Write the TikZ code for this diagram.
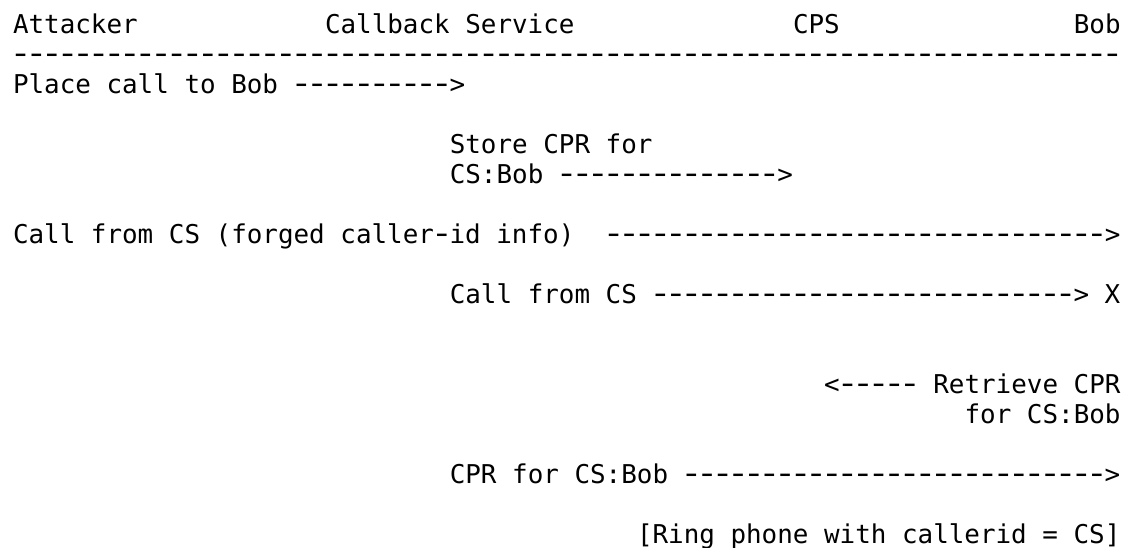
\documentclass[tikz,border=0pt]{standalone}
\usepackage{fontspec}
\usepackage{graphicx}
\setmonofont{DejaVu Sans Mono}
\newcommand\hy{\hbox to \fontcharwd\font`\-{\hss\scalebox{1.45}[1.15]{-}\hss}}
\ExplSyntaxOn
\cs_new:Npn \dsh #1 { \prg_replicate:nn {#1} {\hy} }
\ExplSyntaxOff
\tikzset{
  txt/.style={anchor=base west, inner sep=0pt, outer sep=0pt,
    font=\ttfamily\fontsize{25.9pt}{30pt}\selectfont}
}
\newcommand\ascii[4]{\node[txt] (#1) at ({13+#2*15.6}, {-(33+30*#3)}) {#4};}
\begin{document}
\begin{tikzpicture}[x=1pt,y=1pt]
\useasboundingbox (0,0) rectangle (1126,-547);
% header
\ascii{hA}{0}{0}{Attacker}
\ascii{hCS}{20}{0}{Callback Service}
\ascii{hCPS}{50}{0}{CPS}
\ascii{hBob}{68}{0}{Bob}
\ascii{sep}{0}{1}{\dsh{71}}
% messages
\ascii{m1}{0}{2}{Place call to Bob \dsh{10}>}
\ascii{m2a}{28}{4}{Store CPR for}
\ascii{m2b}{28}{5}{CS:Bob \dsh{14}>}
\ascii{m3a}{0}{7}{Call from CS (forged caller\hy id info)}
\ascii{m3b}{38}{7}{\dsh{32}>}
\ascii{m4}{28}{9}{Call from CS \dsh{27}> X}
\ascii{m5a}{52}{12}{<\dsh{5} Retrieve CPR}
\ascii{m5b}{61}{13}{for CS:Bob}
\ascii{m6}{28}{15}{CPR for CS:Bob \dsh{27}>}
\ascii{m7}{40}{17}{[Ring phone with callerid = CS]}
\end{tikzpicture}
\end{document}
